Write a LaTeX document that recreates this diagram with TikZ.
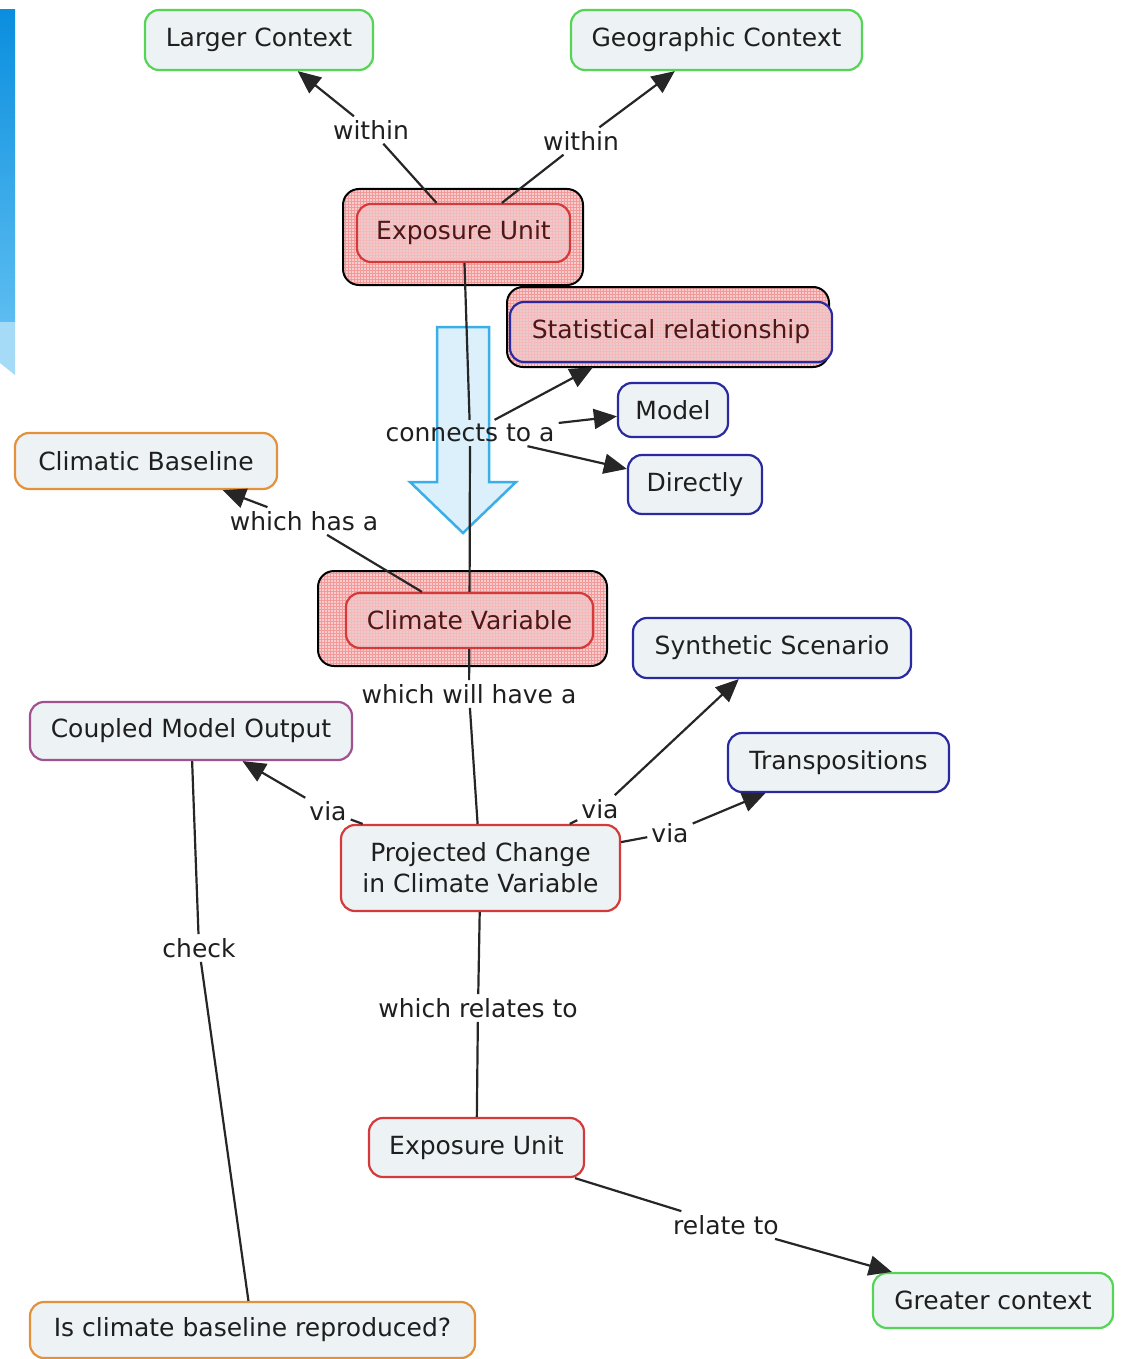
\documentclass[tikz,border=0pt]{standalone}
\usepackage{fontspec}
\setmainfont{DejaVu Sans}
\usetikzlibrary{arrows.meta,patterns}
\definecolor{nodefill}{HTML}{EDF2F5}
\definecolor{ctxgreen}{HTML}{55D455}
\definecolor{varred}{HTML}{D43A3A}
\definecolor{srcnavy}{HTML}{2A2AA0}
\definecolor{baseorange}{HTML}{E3913B}
\definecolor{gcmpurple}{HTML}{A0528E}
\definecolor{hipink}{HTML}{F9CDCD}
\definecolor{higrid}{HTML}{F29A9A}
\definecolor{hiinner}{HTML}{E9CBCD}
\definecolor{hitext}{HTML}{4E1616}
\definecolor{bartop}{HTML}{0A8EDE}
\definecolor{barbot}{HTML}{5CBDF1}
\definecolor{bigarrowfill}{HTML}{DCF0FC}
\definecolor{bigarrowline}{HTML}{3AAEE8}
\tikzset{
  concept/.style={draw, rounded corners=14pt, fill=nodefill, line width=2.2pt,
    font=\fontsize{25}{31}\selectfont, text=black!88, align=center, inner sep=0pt},
  green/.style={concept, draw=ctxgreen},
  redc/.style={concept, draw=varred},
  navy/.style={concept, draw=srcnavy},
  orange/.style={concept, draw=baseorange},
  purple/.style={concept, draw=gcmpurple},
  hilite/.style={fill=hipink, rounded corners=16pt, inner sep=0pt,
    postaction={pattern=grid, pattern color=higrid},
    postaction={draw=black, line width=2pt}},
  hiconcept/.style={concept, draw=none, fill=hiinner, text=hitext,
    postaction={pattern=grid, pattern color=higrid!70},
    postaction={draw=#1, line width=2.2pt}},
  link/.style={font=\fontsize{25}{30}\selectfont, text=black!88, inner sep=4pt},
  conn/.style={line width=2.2pt, draw=black!85},
  arr/.style={conn, -{Triangle[length=23pt,width=20pt]}}
}
\begin{document}
\begin{tikzpicture}[x=1pt,y=-1pt]
  \useasboundingbox (0,0) rectangle (1122,1359);
  % side bar
  \shade[top color=bartop, bottom color=barbot] (0,10) rectangle (15,322);
  \fill[barbot!55] (0,322) -- (15,322) -- (15,375) -- (0,363) -- cycle;
  % highlighted areas
  \node[hilite, minimum width=240pt, minimum height=96pt] (hlexpo) at (463,237) {};
  \node[hilite, minimum width=322pt, minimum height=80pt] (hlstat) at (668,327) {};
  \node[hilite, minimum width=289pt, minimum height=95pt] (hlclim) at (462.5,618.5) {};
  % concepts
  \node[green, minimum width=228pt, minimum height=60pt] (larger) at (259,40) {Larger Context};
  \node[green, minimum width=291pt, minimum height=60pt] (geo) at (716.5,40) {Geographic Context};
  \node[hiconcept=varred, minimum width=213pt, minimum height=58pt] (expotop) at (463.5,233) {Exposure Unit};
  \node[hiconcept=srcnavy, minimum width=322pt, minimum height=60pt] (stat) at (671,332) {Statistical relationship};
  \node[navy, minimum width=110pt, minimum height=54pt] (model) at (673,410) {Model};
  \node[navy, minimum width=134pt, minimum height=59pt] (direct) at (695,484.5) {Directly};
  \node[orange, minimum width=262pt, minimum height=56pt] (baseline) at (146,461) {Climatic Baseline};
  \node[hiconcept=varred, minimum width=247pt, minimum height=55pt] (climvar) at (469.5,620.5) {Climate Variable};
  \node[navy, minimum width=278pt, minimum height=60pt] (synth) at (772,648) {Synthetic Scenario};
  \node[purple, minimum width=322pt, minimum height=58pt] (gcm) at (191,731) {Coupled Model Output};
  \node[navy, minimum width=221pt, minimum height=59pt] (transp) at (838.5,762.5) {Transpositions};
  \node[redc, minimum width=279pt, minimum height=86pt] (proj) at (480.5,868) {Projected Change\\in Climate Variable};
  \node[redc, minimum width=215pt, minimum height=59pt] (expobot) at (476.5,1147.5) {Exposure Unit};
  \node[green, minimum width=240pt, minimum height=55pt] (greater) at (993,1300.5) {Greater context};
  \node[orange, minimum width=445pt, minimum height=56pt] (check) at (252.5,1330) {Is climate baseline reproduced?};
  % big hollow arrow
  \draw[fill=bigarrowfill, draw=bigarrowline, line width=2.5pt, line join=miter]
    (437,327) -- (489,327) -- (489,482) -- (516,482) -- (463,533) -- (410,482) -- (437,482) -- cycle;
  % linking phrases
  \node[link] (withinl) at (371,130) {within};
  \node[link] (withinr) at (581,141) {within};
  \node[link] (connects) at (470,433) {connects to a};
  \node[link] (hasa) at (304,521) {which has a};
  \node[link] (willhave) at (469,694) {which will have a};
  \node[link] (vial) at (328,811) {via};
  \node[link] (viam) at (600,809) {via};
  \node[link] (viar) at (670,833) {via};
  \node[link] (checklbl) at (199,948) {check};
  \node[link] (relates) at (478,1008) {which relates to};
  \node[link] (relate) at (726,1225) {relate to};
  % connectors
  \draw[conn] (expotop) -- (withinl);
  \draw[arr] (withinl) -- (larger);
  \draw[conn] (expotop) -- (withinr);
  \draw[arr] (withinr) -- (geo);
  \draw[conn] (expotop) -- (connects);
  \draw[conn] (connects) -- (climvar);
  \draw[arr] (connects) -- (hlstat);
  \draw[arr] (connects) -- (model);
  \draw[arr] (connects) -- (direct);
  \draw[conn] (climvar) -- (hasa);
  \draw[arr] (hasa) -- (baseline);
  \draw[conn] (climvar) -- (willhave);
  \draw[conn] (willhave) -- (proj);
  \draw[conn] (proj) -- (vial);
  \draw[arr] (vial) -- (gcm);
  \draw[conn] (proj) -- (viam);
  \draw[arr] (viam) -- (synth);
  \draw[conn] (proj) -- (viar);
  \draw[arr] (viar) -- (transp);
  \draw[conn] (gcm) -- (checklbl);
  \draw[conn] (checklbl) -- (check);
  \draw[conn] (proj) -- (relates);
  \draw[conn] (relates) -- (expobot);
  \draw[conn] (expobot) -- (relate);
  \draw[arr] (relate) -- (greater);
\end{tikzpicture}
\end{document}
